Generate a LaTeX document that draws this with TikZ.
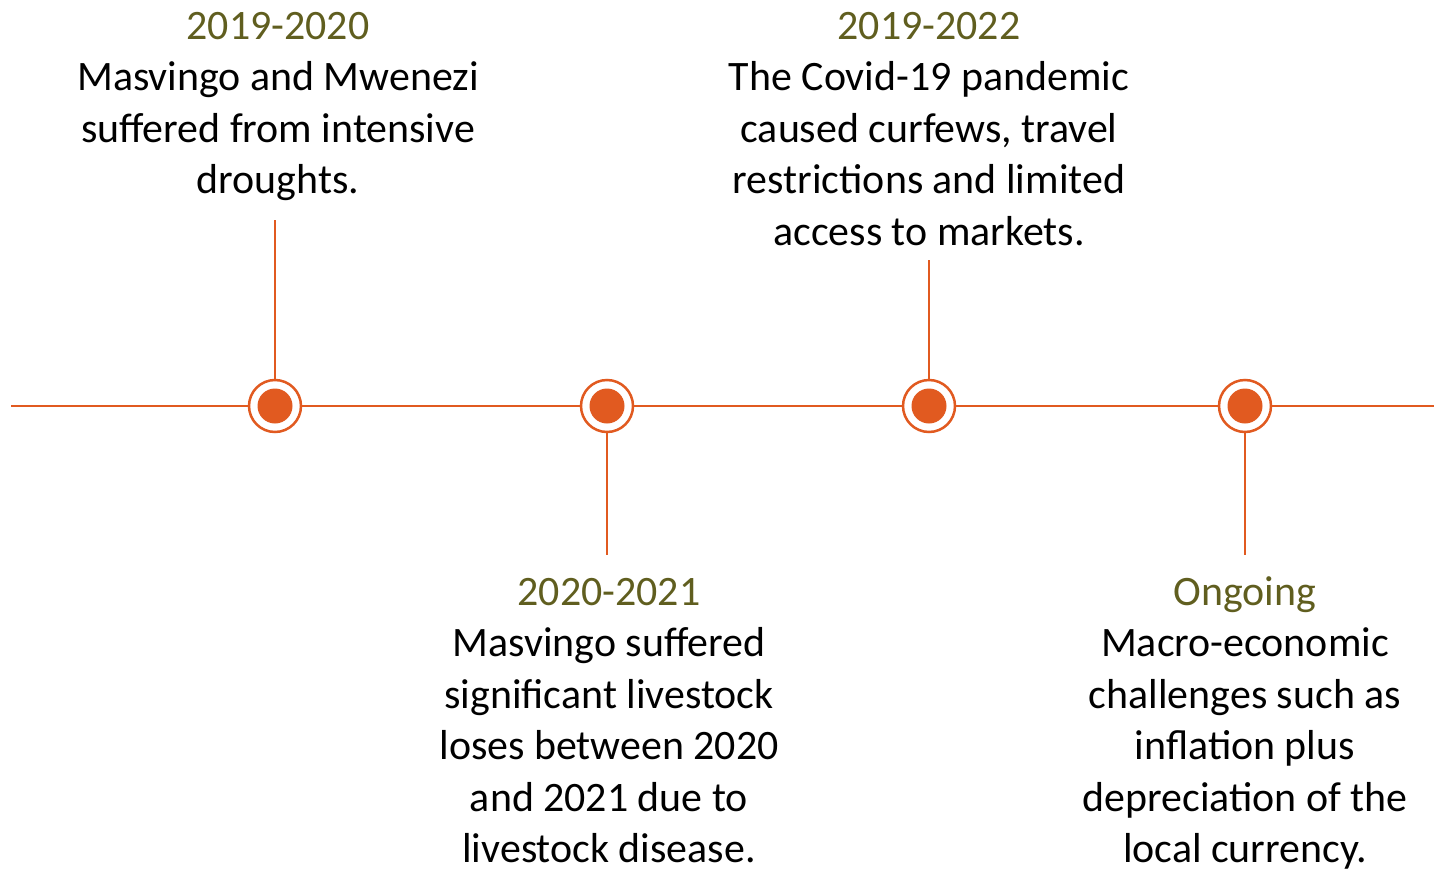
\documentclass[tikz,border=0pt]{standalone}
\usepackage{fontspec}
\setmainfont{Carlito}
\usepackage{xcolor}
\definecolor{lineorange}{RGB}{225,90,32}
\definecolor{olive}{RGB}{96,94,31}

\tikzset{
    marker/.style={circle, draw=lineorange, line width=2.5pt, fill=white, minimum size=52pt, inner sep=0pt,
        path picture={\fill[lineorange] (path picture bounding box.center) circle (17.5pt);}},
    stem/.style={lineorange, line width=2.5pt},
    event/.style={align=center, inner sep=0pt, anchor=base, font=\fontsize{41.9}{51.5}\selectfont}
}

\begin{document}
\begin{tikzpicture}[x=1pt, y=-1pt]
        \useasboundingbox (0,0) rectangle (1434,872);

        % Draw the time line
        \coordinate (start) at (11,406);
        \coordinate (end) at (1434,406);
        \draw[stem] (start) -- (end);

        % Draw the markers
        \node[marker] (m1) at (275,406) {};
        \node[marker] (m2) at (607,406) {};
        \node[marker] (m3) at (929,406) {};
        \node[marker] (m4) at (1245,406) {};

        % Draw the stems
        \coordinate (s1) at (275,220);
        \coordinate (s2) at (607,555);
        \coordinate (s3) at (929,260);
        \coordinate (s4) at (1245,555);
        \draw[stem] (m1) -- (s1);
        \draw[stem] (m2) -- (s2);
        \draw[stem] (m3) -- (s3);
        \draw[stem] (m4) -- (s4);

        % Draw the events (base is the last line)
        \node[event] (t1) at (278,193.5) {\textcolor{olive}{2019-2020}\\Masvingo and Mwenezi\\suffered from intensive\\droughts.};
        \node[event] (t2) at (609,862.5) {\textcolor{olive}{2020-2021}\\Masvingo suffered\\significant livestock\\loses between 2020\\and 2021 due to\\livestock disease.};
        \node[event] (t3) at (929,245) {\textcolor{olive}{2019-2022}\\The Covid-19 pandemic\\caused curfews, travel\\restrictions and limited\\access to markets.};
        \node[event] (t4) at (1245,862.5) {\textcolor{olive}{Ongoing}\\Macro-economic\\challenges such as\\inflation plus\\depreciation of the\\local currency.};
    \end{tikzpicture}
\end{document}
